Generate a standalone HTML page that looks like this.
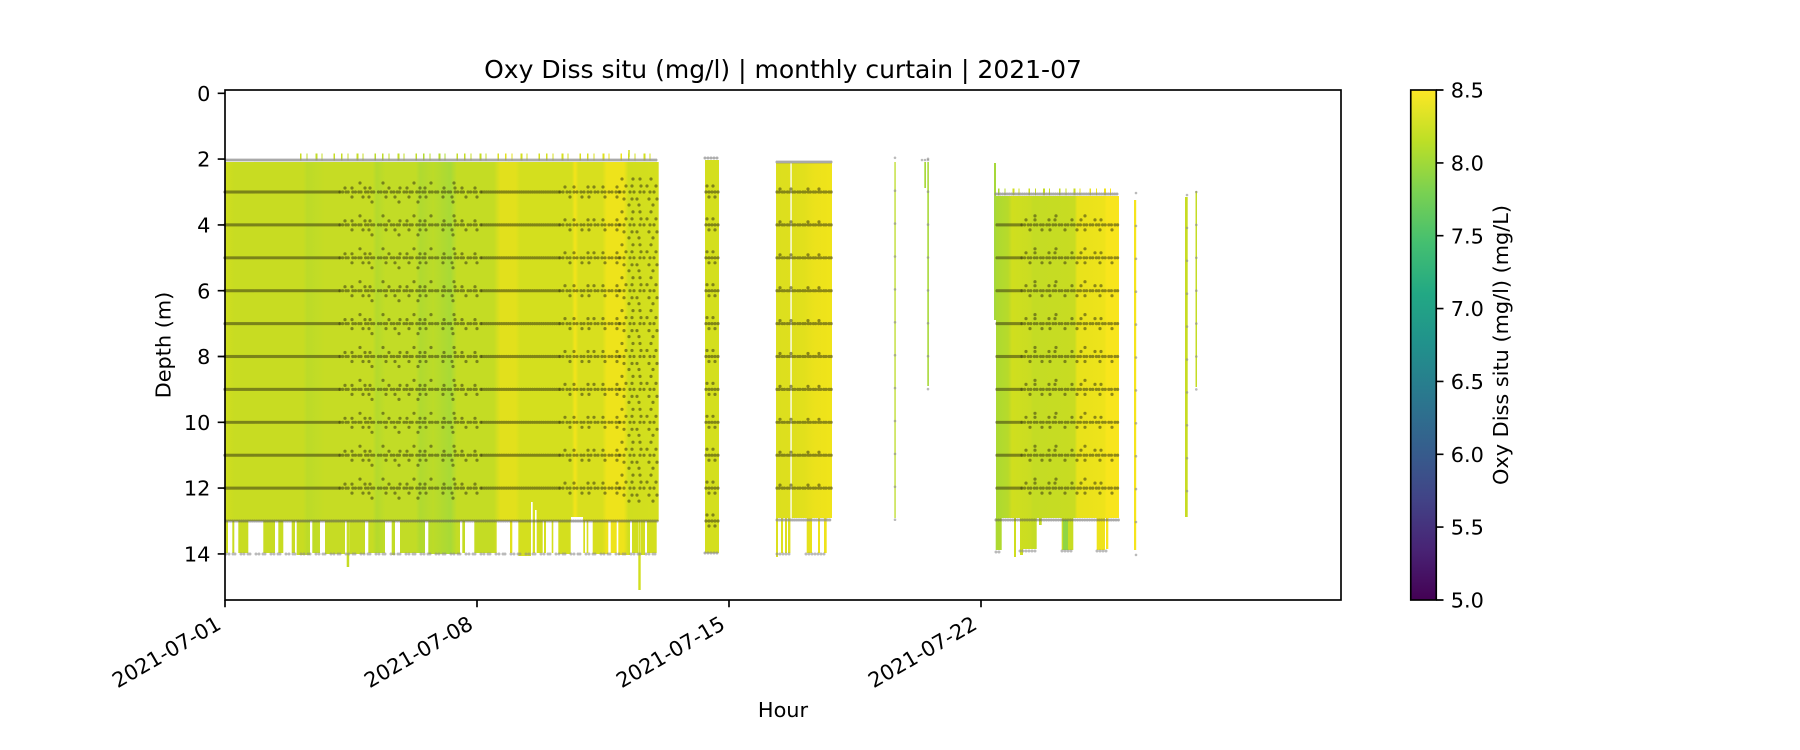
<!DOCTYPE html>
<html><head><meta charset="utf-8"><style>
html,body{margin:0;padding:0;background:#fff;}
svg{display:block;}
text{font-family:"DejaVu Sans","Liberation Sans",sans-serif;fill:#000;}
</style></head><body>
<svg width="1800" height="750" viewBox="0 0 1800 750" xmlns="http://www.w3.org/2000/svg">
<defs>
<linearGradient id="g1" gradientUnits="userSpaceOnUse" x1="225" y1="0" x2="658.7" y2="0">
<stop offset="0" stop-color="#d0de1e"/>
<stop offset="0.023" stop-color="#c8dc22"/>
<stop offset="0.18" stop-color="#c8dc22"/>
<stop offset="0.19" stop-color="#bcdb28"/>
<stop offset="0.23" stop-color="#c6dc24"/>
<stop offset="0.34" stop-color="#c6dc24"/>
<stop offset="0.35" stop-color="#b4da2c"/>
<stop offset="0.37" stop-color="#c2dc26"/>
<stop offset="0.44" stop-color="#c2dc26"/>
<stop offset="0.45" stop-color="#b0da30"/>
<stop offset="0.48" stop-color="#bcdb28"/>
<stop offset="0.52" stop-color="#a8da36"/>
<stop offset="0.535" stop-color="#c4dc24"/>
<stop offset="0.62" stop-color="#c4dc24"/>
<stop offset="0.635" stop-color="#e2e01c"/>
<stop offset="0.67" stop-color="#e2e01c"/>
<stop offset="0.68" stop-color="#d4df1e"/>
<stop offset="0.80" stop-color="#d4df1e"/>
<stop offset="0.807" stop-color="#f4e41a"/>
<stop offset="0.815" stop-color="#d8df1e"/>
<stop offset="0.87" stop-color="#d8df1e"/>
<stop offset="0.88" stop-color="#eee31b"/>
<stop offset="0.92" stop-color="#eee31b"/>
<stop offset="0.93" stop-color="#d0de1e"/>
<stop offset="1" stop-color="#d4df1e"/>
</linearGradient>
<linearGradient id="g3" gradientUnits="userSpaceOnUse" x1="776" y1="0" x2="832" y2="0">
<stop offset="0" stop-color="#dcdf1e"/>
<stop offset="0.3" stop-color="#dedf1d"/>
<stop offset="0.5" stop-color="#e2e01c"/>
<stop offset="0.7" stop-color="#ece21b"/>
<stop offset="1" stop-color="#f0e41a"/>
</linearGradient>
<linearGradient id="g4" gradientUnits="userSpaceOnUse" x1="996" y1="0" x2="1119" y2="0">
<stop offset="0" stop-color="#acd932"/>
<stop offset="0.1" stop-color="#b8da2a"/>
<stop offset="0.13" stop-color="#d0de1e"/>
<stop offset="0.28" stop-color="#cadd22"/>
<stop offset="0.3" stop-color="#c4dc24"/>
<stop offset="0.64" stop-color="#c8dc22"/>
<stop offset="0.66" stop-color="#e8e21b"/>
<stop offset="0.88" stop-color="#eee31b"/>
<stop offset="0.9" stop-color="#f8e51c"/>
<stop offset="1" stop-color="#f8e51c"/>
</linearGradient>
<linearGradient id="vir" x1="0" y1="1" x2="0" y2="0">
<stop offset="0" stop-color="#440154"/>
<stop offset="0.1" stop-color="#482475"/>
<stop offset="0.2" stop-color="#414487"/>
<stop offset="0.3" stop-color="#355f8d"/>
<stop offset="0.4" stop-color="#2a788e"/>
<stop offset="0.5" stop-color="#21918c"/>
<stop offset="0.6" stop-color="#22a884"/>
<stop offset="0.7" stop-color="#44bf70"/>
<stop offset="0.8" stop-color="#7ad151"/>
<stop offset="0.9" stop-color="#bddf26"/>
<stop offset="1" stop-color="#fde725"/>
</linearGradient>

<g id="r1" fill="none" stroke="#3a3a12" stroke-width="3.2" stroke-opacity=".55" stroke-linecap="round">
<path d="M225 0H340" stroke-dasharray="0 2"/>
<path d="M340 0H482" stroke-dasharray="0 2.6 0 3.4 0 2.2 0 4.6"/>
<path d="M482 0H560" stroke-dasharray="0 2.2"/>
<path d="M560 0H620" stroke-dasharray="0 3 0 4"/>
<path d="M620 0H658" stroke-dasharray="0 4 0 6"/>
<path d="M345 -4H480" stroke-dasharray="0 7 0 13 0 5 0 19 0 11"/>
<path d="M352 5H478" stroke-dasharray="0 11 0 6 0 17 0 9 0 14"/>
<path d="M360 -9H470" stroke-dasharray="0 23 0 31 0 17"/>
<path d="M372 10H476" stroke-dasharray="0 27 0 19 0 35"/>
<path d="M565 -5H618" stroke-dasharray="0 9 0 14 0 6"/>
<path d="M570 5H620" stroke-dasharray="0 12 0 7 0 16"/>
<path d="M622 -13H658" stroke-dasharray="0 11 0 7"/>
<path d="M626 -6H658" stroke-dasharray="0 6 0 9"/>
<path d="M624 7H658" stroke-dasharray="0 8 0 5 0 12"/>
<path d="M629 13H658" stroke-dasharray="0 10 0 14"/>
</g>
<g id="r4" fill="none" stroke="#3a3a12" stroke-width="3.2" stroke-opacity=".55" stroke-linecap="round">
<path d="M997 0H1022" stroke-dasharray="0 2"/>
<path d="M1022 0H1119" stroke-dasharray="0 2.6 0 3.6"/>
<path d="M1026 -5H1115" stroke-dasharray="0 9 0 14 0 6 0 17"/>
<path d="M1030 5H1117" stroke-dasharray="0 12 0 8 0 15"/>
<path d="M1035 -9H1100" stroke-dasharray="0 21 0 29"/>
</g>
<g id="r3" fill="none" stroke="#3a3a12" stroke-width="3.2" stroke-opacity=".55" stroke-linecap="round">
<path d="M777 0H832" stroke-dasharray="0 2.2 0 3"/>
<path d="M780 -3H830" stroke-dasharray="0 11 0 17"/>
</g>
<g id="r2" fill="none" stroke="#3a3a12" stroke-width="3.2" stroke-opacity=".55" stroke-linecap="round">
<path d="M706 0H719" stroke-dasharray="0 3"/>
<path d="M707 -6H718 M709 5H719" stroke-dasharray="0 6"/>
</g>
</defs>

<!-- Block 1 -->
<rect x="225" y="162" width="433.7" height="359" fill="url(#g1)"/>
<path d="M300 157H655" stroke="url(#g1)" stroke-width="7" stroke-dasharray="1.5 5 1 8 2 4 1 11 1.5 6" fill="none"/>
<path d="M629 157V150" stroke="#d0de1e" stroke-width="1.5"/>
<g fill="url(#g1)">
<rect x="225" y="521" width="3" height="32"/>
<rect x="232.3" y="521" width="2" height="32"/>
<rect x="238.3" y="521" width="10" height="32"/>
<rect x="263.3" y="521" width="11.7" height="32"/>
<rect x="278.3" y="521" width="5" height="32"/>
<rect x="291.7" y="521" width="3.3" height="32"/>
<rect x="296.7" y="521" width="13.3" height="34"/>
<rect x="312.3" y="521" width="7.7" height="32"/>
<rect x="325" y="521" width="20" height="33"/>
<rect x="346.7" y="521" width="2.5" height="46"/>
<rect x="349.2" y="521" width="15.8" height="33"/>
<rect x="368.3" y="521" width="16.7" height="32"/>
<rect x="391.7" y="521" width="3.3" height="34"/>
<rect x="400" y="521" width="25" height="32"/>
<rect x="428.3" y="521" width="31.7" height="33"/>
<rect x="462.3" y="521" width="2.7" height="32"/>
<rect x="474.3" y="521" width="22.4" height="32"/>
<rect x="510" y="521" width="2.3" height="32"/>
<rect x="518.3" y="521" width="12.7" height="35"/>
<rect x="532.7" y="521" width="2.3" height="32"/>
<rect x="536.7" y="521" width="6" height="32"/>
<rect x="544" y="521" width="2" height="32"/>
<rect x="551.7" y="521" width="1.6" height="32"/>
<rect x="558.3" y="521" width="12.4" height="33"/>
<rect x="583.3" y="521" width="1.7" height="32"/>
<rect x="586.7" y="521" width="1.6" height="32"/>
<rect x="592.7" y="521" width="15.6" height="33"/>
<rect x="610.7" y="521" width="6" height="32"/>
<rect x="618.3" y="521" width="11.7" height="34"/>
<rect x="632" y="521" width="6" height="32"/>
<rect x="638.3" y="521" width="2.4" height="69"/>
<rect x="641" y="521" width="4" height="34"/>
<rect x="647" y="521" width="9.7" height="32"/>
</g>
<rect x="531" y="502" width="1.7" height="19" fill="#fff"/>
<rect x="535" y="510" width="1.6" height="11" fill="#fff"/>
<rect x="571" y="517" width="12" height="4" fill="#fff"/>
<path d="M226 160H658" fill="none" stroke="#8c8c8c" stroke-opacity=".75" stroke-width="3" stroke-linecap="round" stroke-dasharray="0 2"/>
<path d="M226 554H658" fill="none" stroke="#8c8c8c" stroke-opacity=".6" stroke-width="3" stroke-linecap="round" stroke-dasharray="0 3 0 4 0 2 0 6"/>
<path d="M226 521H658" fill="none" stroke="#555" stroke-opacity=".55" stroke-width="3" stroke-linecap="round" stroke-dasharray="0 2.2"/>
<use href="#r1" y="192.0"/>
<use href="#r1" y="224.9"/>
<use href="#r1" y="257.8"/>
<use href="#r1" y="290.7"/>
<use href="#r1" y="323.6"/>
<use href="#r1" y="356.5"/>
<use href="#r1" y="389.4"/>
<use href="#r1" y="422.3"/>
<use href="#r1" y="455.2"/>
<use href="#r1" y="488.1"/>

<!-- Block 2 -->
<rect x="705" y="160" width="14" height="393" fill="#d4df1e"/>
<path d="M705 158H719" stroke="#8c8c8c" stroke-width="3" stroke-opacity=".7" stroke-linecap="round" stroke-dasharray="0 3"/>
<use href="#r2" y="192.0"/><use href="#r2" y="224.9"/><use href="#r2" y="257.8"/><use href="#r2" y="290.7"/>
<use href="#r2" y="323.6"/><use href="#r2" y="356.5"/><use href="#r2" y="389.4"/><use href="#r2" y="422.3"/>
<use href="#r2" y="455.2"/><use href="#r2" y="488.1"/><use href="#r2" y="521.0"/>
<path d="M705 553H719" stroke="#8c8c8c" stroke-width="3" stroke-opacity=".7" stroke-linecap="round" stroke-dasharray="0 3"/>

<!-- Block 3 -->
<rect x="776" y="163" width="56" height="355" fill="url(#g3)"/>
<rect x="790.4" y="163" width="1.3" height="355" fill="#fff"/>
<g fill="url(#g3)">
<rect x="776" y="518" width="2" height="39"/>
<rect x="781" y="518" width="2" height="35"/>
<rect x="785" y="518" width="2" height="35"/>
<rect x="788" y="518" width="2.4" height="35"/>
<rect x="806.7" y="518" width="5.3" height="35"/>
<rect x="818" y="518" width="2" height="35"/>
<rect x="824" y="518" width="2.7" height="35"/>
</g>
<path d="M777 162H832" stroke="#8c8c8c" stroke-width="3" stroke-opacity=".75" stroke-linecap="round" stroke-dasharray="0 2"/>
<path d="M777 520H832" stroke="#8c8c8c" stroke-width="3" stroke-opacity=".7" stroke-linecap="round" stroke-dasharray="0 2.2"/>
<path d="M777 554H792 M806 554H827" stroke="#8c8c8c" stroke-width="3" stroke-opacity=".6" stroke-linecap="round" stroke-dasharray="0 3"/>
<use href="#r3" y="192.0"/><use href="#r3" y="224.9"/><use href="#r3" y="257.8"/><use href="#r3" y="290.7"/>
<use href="#r3" y="323.6"/><use href="#r3" y="356.5"/><use href="#r3" y="389.4"/><use href="#r3" y="422.3"/>
<use href="#r3" y="455.2"/><use href="#r3" y="488.1"/>

<!-- thin lines -->
<rect x="894.4" y="162" width="1.3" height="356" fill="#bcdb28"/>
<path d="M895 157.8V520" stroke="#8c8c8c" stroke-width="2.6" stroke-opacity=".6" stroke-linecap="round" stroke-dasharray="0 32.9"/>
<rect x="924.3" y="162" width="1.7" height="26" fill="#a8d838"/>
<rect x="927.3" y="162" width="1.6" height="224" fill="#a8d838"/>
<path d="M928 158.8V390" stroke="#8c8c8c" stroke-width="2.6" stroke-opacity=".6" stroke-linecap="round" stroke-dasharray="0 32.9"/>
<path d="M922 160H930" stroke="#8c8c8c" stroke-width="2.6" stroke-opacity=".6" stroke-linecap="round" stroke-dasharray="0 3"/>

<!-- Block 4 -->
<rect x="994" y="163" width="2" height="157" fill="#a6d83a"/>
<rect x="996" y="196" width="123" height="322" fill="url(#g4)"/>
<path d="M998 192H1118" stroke="url(#g4)" stroke-width="7" stroke-dasharray="1.5 5 1 7 2 4 1 9"/>
<g fill="url(#g4)">
<rect x="995.7" y="518" width="6" height="32"/>
<rect x="1014" y="518" width="2" height="39"/>
<rect x="1020" y="518" width="3" height="37"/>
<rect x="1023" y="518" width="13.7" height="31"/>
<rect x="1039" y="518" width="2.7" height="7"/>
<rect x="1061.7" y="518" width="11.6" height="32"/>
<rect x="1096.7" y="518" width="8.3" height="32"/>
<rect x="1106" y="518" width="2.3" height="31"/>
</g>
<rect x="1063" y="520" width="5" height="30" fill="#7ad151" opacity=".7"/>
<path d="M996 194H1119" stroke="#8c8c8c" stroke-width="3" stroke-opacity=".75" stroke-linecap="round" stroke-dasharray="0 2.2"/>
<path d="M996 520H1119" stroke="#555" stroke-width="3" stroke-opacity=".5" stroke-linecap="round" stroke-dasharray="0 2.4"/>
<path d="M996 552H1002 M1020 551H1037 M1062 551H1074 M1097 551H1108" stroke="#8c8c8c" stroke-width="3" stroke-opacity=".6" stroke-linecap="round" stroke-dasharray="0 3"/>
<use href="#r4" y="224.9"/><use href="#r4" y="257.8"/><use href="#r4" y="290.7"/>
<use href="#r4" y="323.6"/><use href="#r4" y="356.5"/><use href="#r4" y="389.4"/><use href="#r4" y="422.3"/>
<use href="#r4" y="455.2"/><use href="#r4" y="488.1"/>

<!-- right thin lines -->
<rect x="1134" y="200" width="2.2" height="350" fill="#f6e41c"/>
<path d="M1136 193V555" stroke="#8c8c8c" stroke-width="2.6" stroke-opacity=".6" stroke-linecap="round" stroke-dasharray="0 32.9"/>
<rect x="1185" y="197" width="2.7" height="320" fill="#c8dc22"/>
<path d="M1187 195V520" stroke="#8c8c8c" stroke-width="2.6" stroke-opacity=".6" stroke-linecap="round" stroke-dasharray="0 32.9"/>
<rect x="1195.5" y="191" width="1.5" height="196" fill="#c4dc24"/>
<path d="M1196.3 192V390" stroke="#8c8c8c" stroke-width="2.6" stroke-opacity=".6" stroke-linecap="round" stroke-dasharray="0 32.9"/>

<!-- axes frame -->
<rect x="225" y="90" width="1116" height="510" fill="none" stroke="#000" stroke-width="1.67"/>

<g stroke="#000" stroke-width="1.67">
<path d="M217.7 93.3H225 M217.7 159.1H225 M217.7 224.9H225 M217.7 290.7H225 M217.7 356.5H225 M217.7 422.3H225 M217.7 488.1H225 M217.7 553.9H225"/>
<path d="M225 600V607.3 M477 600V607.3 M729 600V607.3 M981 600V607.3"/>
</g>
<g font-size="20.83" text-anchor="end">
<text x="210.4" y="100.9">0</text>
<text x="210.4" y="166.7">2</text>
<text x="210.4" y="232.5">4</text>
<text x="210.4" y="298.3">6</text>
<text x="210.4" y="364.1">8</text>
<text x="210.4" y="429.9">10</text>
<text x="210.4" y="495.7">12</text>
<text x="210.4" y="561.5">14</text>
</g>
<text font-size="20.83" text-anchor="middle" transform="translate(170.5,345) rotate(-90)">Depth (m)</text>

<g font-size="20.83" text-anchor="end">
<text transform="translate(222.5,628) rotate(-30)">2021-07-01</text>
<text transform="translate(474.5,628) rotate(-30)">2021-07-08</text>
<text transform="translate(726.5,628) rotate(-30)">2021-07-15</text>
<text transform="translate(978.5,628) rotate(-30)">2021-07-22</text>
</g>
<text x="783" y="717" font-size="20.83" text-anchor="middle">Hour</text>

<text x="783" y="78" font-size="25" text-anchor="middle">Oxy Diss situ (mg/l) | monthly curtain | 2021-07</text>

<!-- colorbar -->
<rect x="1410.75" y="90" width="25.5" height="510" fill="url(#vir)"/>
<rect x="1410.75" y="90" width="25.5" height="510" fill="none" stroke="#000" stroke-width="1.67"/>
<g stroke="#000" stroke-width="1.67">
<path d="M1436.25 600H1443.5 M1436.25 527.1H1443.5 M1436.25 454.3H1443.5 M1436.25 381.4H1443.5 M1436.25 308.6H1443.5 M1436.25 235.7H1443.5 M1436.25 162.9H1443.5 M1436.25 90H1443.5"/>
</g>
<g font-size="20.83">
<text x="1450.8" y="607.6">5.0</text>
<text x="1450.8" y="534.7">5.5</text>
<text x="1450.8" y="461.9">6.0</text>
<text x="1450.8" y="389">6.5</text>
<text x="1450.8" y="316.2">7.0</text>
<text x="1450.8" y="243.3">7.5</text>
<text x="1450.8" y="170.5">8.0</text>
<text x="1450.8" y="97.6">8.5</text>
</g>
<text font-size="20.83" text-anchor="middle" transform="translate(1508,345) rotate(-90)">Oxy Diss situ (mg/l) (mg/L)</text>
</svg>
</body></html>
